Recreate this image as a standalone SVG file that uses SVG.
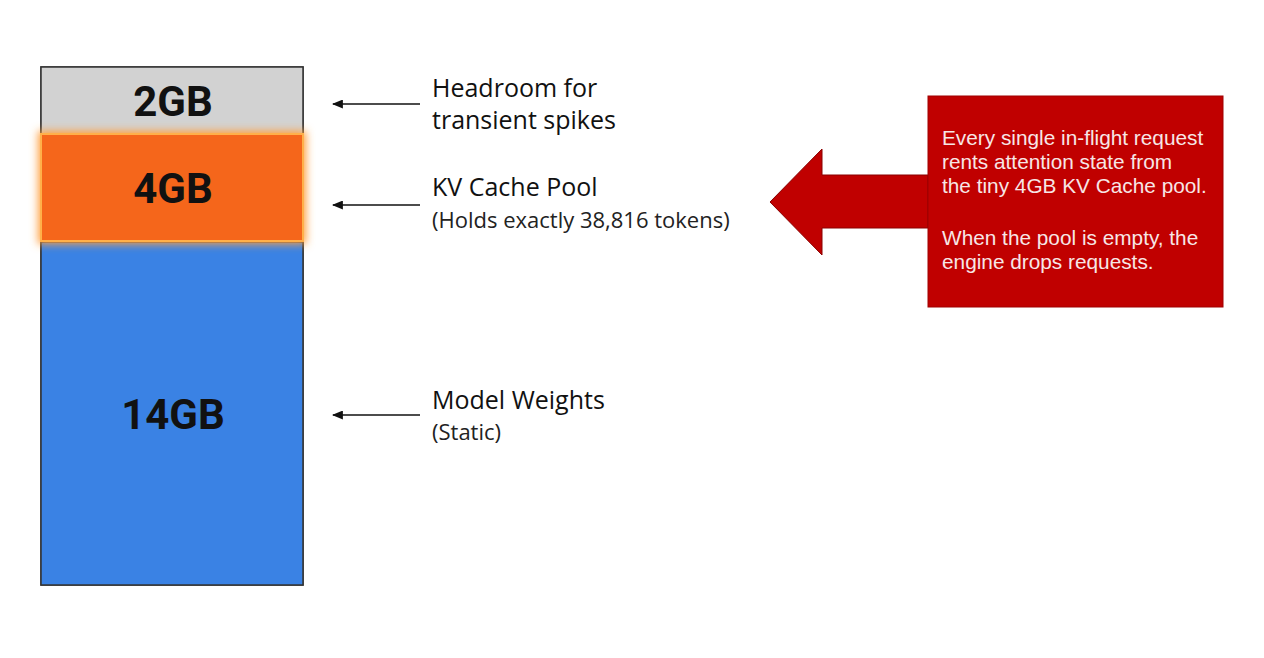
<svg xmlns="http://www.w3.org/2000/svg" width="1264" height="658" viewBox="0 0 1264 658">
<style>
.seg{font-family:Roboto,"Liberation Sans",sans-serif;font-weight:bold;font-size:42px;fill:#111;text-anchor:middle}
.lbl{font-family:"Open Sans","Noto Sans",sans-serif;font-size:25px;fill:#111}
.sub{font-family:"Open Sans","Noto Sans",sans-serif;font-size:22px;fill:#222}
.note{font-family:"Liberation Sans",Arial,sans-serif;font-size:20.8px;fill:#f7e6e6}
.conn{stroke:#111;stroke-width:1.5;fill:none}
</style>
<defs>
<marker id="ah" viewBox="0 0 10 10" refX="9" refY="5" markerWidth="11" markerHeight="9" markerUnits="userSpaceOnUse" orient="auto" preserveAspectRatio="none">
<path d="M0,0 L10,5 L0,10 z" fill="#111"/>
</marker>
<filter id="glow" x="-20%" y="-40%" width="140%" height="180%">
<feGaussianBlur stdDeviation="4"/>
</filter>
</defs>
<rect width="1264" height="658" fill="#ffffff"/>
<g id="bar">
<rect x="41" y="67" width="262" height="518" fill="#ffffff" stroke="#333" stroke-width="1.5"/>
<g id="seg-2gb">
<rect x="41" y="67" width="262" height="67" fill="#d2d2d2" stroke="#333" stroke-width="1.5"/>
<text class="seg" x="173" y="116">2GB</text>
</g>
<g id="seg-14gb">
<rect x="41" y="242" width="262" height="343" fill="#3a82e4" stroke="#333" stroke-width="1.5"/>
<text class="seg" x="173" y="429">14GB</text>
</g>
<g id="seg-4gb">
<rect x="38" y="131" width="268" height="113" fill="#ffa040" filter="url(#glow)"/>
<rect x="41" y="134" width="262" height="107" fill="#f5661b" stroke="#ffb04a" stroke-width="2"/>
<text class="seg" x="173" y="203">4GB</text>
</g>
</g>
<g id="connectors">
<line class="conn" x1="420" y1="104" x2="333" y2="104" marker-end="url(#ah)"/>
<line class="conn" x1="420" y1="205" x2="333" y2="205" marker-end="url(#ah)"/>
<line class="conn" x1="420" y1="415" x2="333" y2="415" marker-end="url(#ah)"/>
</g>
<g id="label-headroom">
<text class="lbl" x="432" y="97">Headroom for</text>
<text class="lbl" x="432" y="129">transient spikes</text>
</g>
<g id="label-kv">
<text class="lbl" x="432" y="196">KV Cache Pool</text>
<text class="sub" x="432" y="228">(Holds exactly 38,816 tokens)</text>
</g>
<g id="label-weights">
<text class="lbl" x="432" y="409">Model Weights</text>
<text class="sub" x="432" y="440">(Static)</text>
</g>
<g id="callout">
<path d="M928,175 L822,175 L822,149 L770,202 L822,255 L822,228 L928,228 Z" fill="#c00000" stroke="#8a0000" stroke-width="1"/>
<rect x="928" y="96" width="295" height="211" fill="#c00000" stroke="#a00000" stroke-width="1"/>
<text class="note" x="942" y="145">Every single in-flight request</text>
<text class="note" x="942" y="169">rents attention state from</text>
<text class="note" x="942" y="193">the tiny 4GB KV Cache pool.</text>
<text class="note" x="942" y="245">When the pool is empty, the</text>
<text class="note" x="942" y="269">engine drops requests.</text>
</g>
</svg>
